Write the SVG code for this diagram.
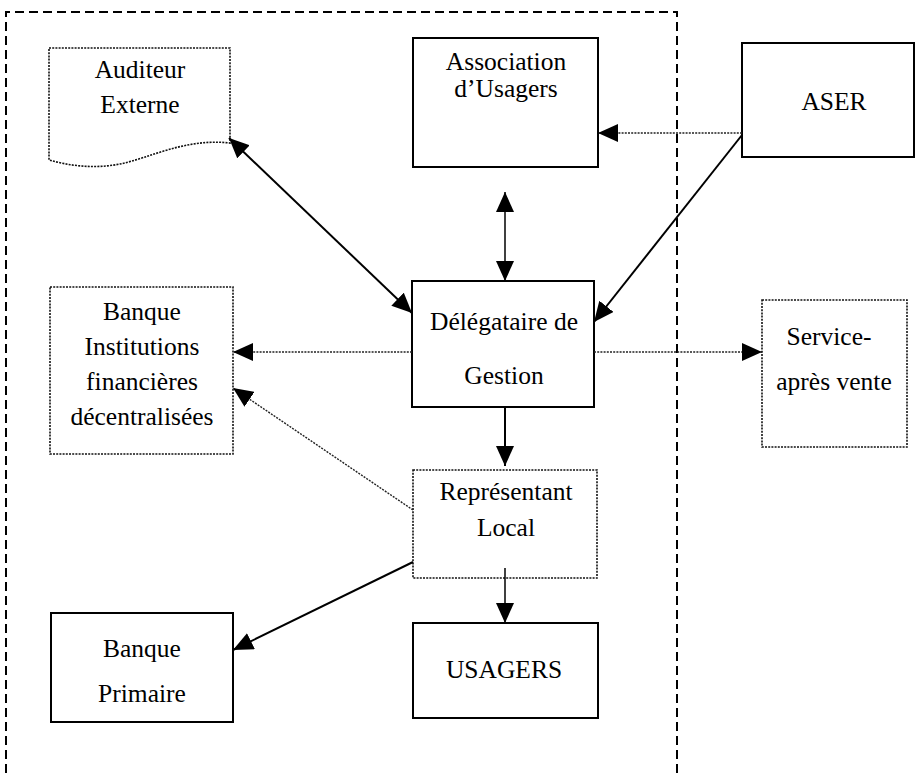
<svg xmlns="http://www.w3.org/2000/svg" width="915" height="773" viewBox="0 0 915 773">
<style>
.bg{fill:#fff}
.solid{fill:#fff;stroke:#000;stroke-width:2}
.dot{fill:#fff;stroke:#111;stroke-width:1.6;stroke-dasharray:2 1.2}
.frame{fill:none;stroke:#000;stroke-width:2;stroke-dasharray:9 5}
.t{font-family:"Liberation Serif","Times New Roman",serif;font-size:25.5px;fill:#000;text-anchor:middle}
.c{fill:none;stroke:#000;stroke-width:2}
.cd{fill:none;stroke:#222;stroke-width:1.4;stroke-dasharray:2 1.2}
.cthin{fill:none;stroke:#000;stroke-width:1.5}
</style>
<defs>
<marker id="ah" viewBox="0 0 20 18" refX="20" refY="9" markerWidth="20" markerHeight="18" markerUnits="userSpaceOnUse" orient="auto-start-reverse">
<path d="M0,0 L20,9 L0,18 Z" fill="#000"/>
</marker>
</defs>
<rect class="bg" x="0" y="0" width="915" height="773"/>
<path class="frame" d="M6,773 V12 H677 V773"/>

<g id="auditeur">
<path class="dot" d="M49,48 H230 V143 C185,138 150,158 120,164 C95,169 70,166 49,160 Z"/>
<text class="t" x="140" y="78">Auditeur</text>
<text class="t" x="140" y="113">Externe</text>
</g>
<g id="association">
<rect class="solid" x="413" y="38" width="185" height="129"/>
<text class="t" x="506" y="70">Association</text>
<text class="t" x="506" y="97">d’Usagers</text>
</g>
<g id="aser">
<rect class="solid" x="742" y="43" width="172" height="114"/>
<text class="t" x="834" y="110">ASER</text>
</g>
<g id="banque-institutions">
<rect class="dot" x="50" y="287" width="183" height="167"/>
<text class="t" x="142" y="320">Banque</text>
<text class="t" x="142" y="355">Institutions</text>
<text class="t" x="142" y="390">financières</text>
<text class="t" x="142" y="425">décentralisées</text>
</g>
<g id="delegataire">
<rect class="solid" x="412" y="281" width="182" height="126"/>
<text class="t" x="504" y="330">Délégataire de</text>
<text class="t" x="504" y="384">Gestion</text>
</g>
<g id="service">
<rect class="dot" x="762" y="300" width="145" height="147"/>
<text class="t" x="829" y="345">Service-</text>
<text class="t" x="834" y="390">après vente</text>
</g>
<g id="representant">
<rect class="dot" x="413" y="470" width="184" height="108"/>
<text class="t" x="506" y="500">Représentant</text>
<text class="t" x="506" y="536">Local</text>
</g>
<g id="usagers">
<rect class="solid" x="413" y="623" width="185" height="95"/>
<text class="t" x="504" y="678">USAGERS</text>
</g>
<g id="banque-primaire">
<rect class="solid" x="51" y="613" width="182" height="109"/>
<text class="t" x="142" y="657">Banque</text>
<text class="t" x="142" y="702">Primaire</text>
</g>

<g id="connectors">
<line class="c" x1="229" y1="138" x2="412" y2="313" marker-start="url(#ah)" marker-end="url(#ah)"/>
<line class="cthin" x1="505" y1="192" x2="505" y2="281" marker-start="url(#ah)" marker-end="url(#ah)"/>
<line class="cd" x1="742" y1="133" x2="598" y2="133" marker-end="url(#ah)"/>
<line class="c" x1="742" y1="135" x2="594" y2="322" marker-end="url(#ah)"/>
<line class="cd" x1="412" y1="352" x2="233" y2="352" marker-end="url(#ah)"/>
<line class="cd" x1="594" y1="352" x2="762" y2="352" marker-end="url(#ah)"/>
<line class="c" x1="505" y1="407" x2="505" y2="466" marker-end="url(#ah)"/>
<line class="cd" x1="413" y1="510" x2="233" y2="388" marker-end="url(#ah)"/>
<line class="c" x1="413" y1="562" x2="233" y2="650" marker-end="url(#ah)"/>
<line class="cthin" x1="505" y1="568" x2="505" y2="623" marker-end="url(#ah)"/>
</g>
</svg>
